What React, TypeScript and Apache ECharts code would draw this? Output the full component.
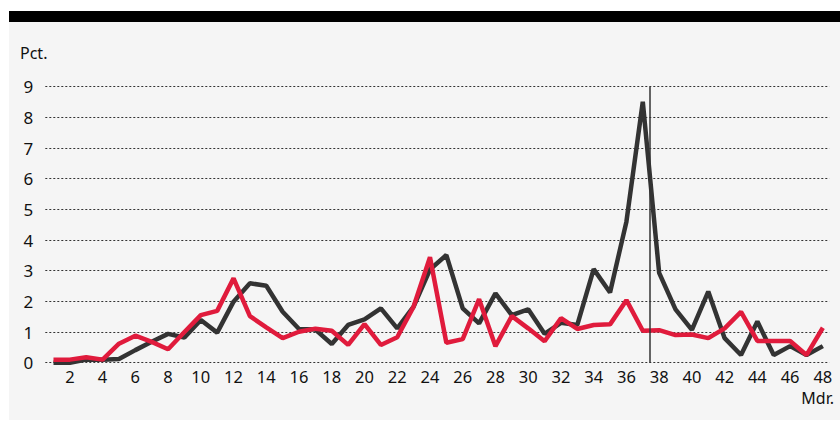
import React, { useEffect, useRef } from "react";
import * as echarts from "echarts";

const months = [
  1, 2, 3, 4, 5, 6, 7, 8, 9, 10, 11, 12, 13, 14, 15, 16, 17, 18, 19, 20, 21, 22, 23, 24,
  25, 26, 27, 28, 29, 30, 31, 32, 33, 34, 35, 36, 37, 38, 39, 40, 41, 42, 43, 44, 45, 46, 47, 48,
];
const blackSeries = [
  0.0, 0.0, 0.1, 0.1, 0.12, 0.41, 0.68, 0.94, 0.82, 1.39, 0.98, 1.99, 2.59, 2.51, 1.66, 1.1,
  1.08, 0.61, 1.23, 1.41, 1.77, 1.12, 1.83, 3.04, 3.51, 1.77, 1.28, 2.26, 1.55, 1.74, 0.94, 1.3,
  1.23, 3.05, 2.29, 4.6, 8.51, 2.93, 1.74, 1.07, 2.32, 0.8, 0.25, 1.34, 0.25, 0.54, 0.25, 0.54,
];
const redSeries = [
  0.1, 0.1, 0.18, 0.1, 0.62, 0.88, 0.68, 0.44, 1.0, 1.55, 1.69, 2.75, 1.52, 1.15, 0.8, 1.01,
  1.11, 1.04, 0.58, 1.26, 0.58, 0.83, 1.83, 3.44, 0.65, 0.77, 2.07, 0.54, 1.52, 1.12, 0.7, 1.45,
  1.1, 1.23, 1.25, 2.04, 1.04, 1.06, 0.9, 0.92, 0.8, 1.12, 1.66, 0.71, 0.71, 0.71, 0.25, 1.14,
];
const xTickLabels = [2, 4, 6, 8, 10, 12, 14, 16, 18, 20, 22, 24, 26, 28, 30, 32, 34, 36, 38, 40, 42, 44, 46, 48];
const markerMonth = 37.4;

const FONT = "'Noto Sans', sans-serif";
const TEXT = "#111111";

export default function App() {
  const ref = useRef<HTMLDivElement>(null);
  useEffect(() => {
    if (!ref.current) return;
    const chart = echarts.init(ref.current, null, { renderer: "svg" });
    chart.setOption({
      animation: false,
      backgroundColor: "#ffffff",
      textStyle: { fontFamily: FONT },
      graphic: [
        { type: "rect", z: -10, shape: { x: 9, y: 22, width: 831, height: 398 }, style: { fill: "#f5f5f5" } },
        { type: "rect", z: -10, shape: { x: 9, y: 11, width: 831, height: 11 }, style: { fill: "#000000" } },
        {
          type: "text",
          left: 20,
          top: 45,
          style: { text: "Pct.", fontSize: 16, fontFamily: FONT, fill: TEXT },
        },
        {
          type: "text",
          right: 6,
          top: 390,
          style: { text: "Mdr.", fontSize: 16, fontFamily: FONT, fill: TEXT },
        },
      ],
      grid: { left: 45.3, right: 10.6, top: 86.7, bottom: 58.3, containLabel: false },
      xAxis: {
        type: "value",
        min: 0.5,
        max: 48.4,
        axisLine: { show: false },
        axisTick: { show: false },
        splitLine: { show: false },
        axisLabel: {
          customValues: xTickLabels,
          fontSize: 16.5,
          color: TEXT,
          fontFamily: FONT,
          margin: 5,
        },
      },
      yAxis: {
        type: "value",
        min: 0,
        max: 9,
        interval: 1,
        axisLine: { show: false },
        axisTick: { show: false },
        axisLabel: { fontSize: 17, color: TEXT, fontFamily: FONT, margin: 12 },
        splitLine: { lineStyle: { color: "#333333", width: 1, type: [2, 2] } },
      },
      series: [
        {
          type: "line",
          data: months.map((m, i) => [m, blackSeries[i]]),
          showSymbol: false,
          lineStyle: { color: "#333333", width: 4.5 },
          itemStyle: { color: "#333333" },
          markLine: {
            silent: true,
            symbol: "none",
            label: { show: false },
            lineStyle: { color: "#333333", width: 1.5, type: "solid" },
            data: [{ xAxis: markerMonth }],
          },
        },
        {
          type: "line",
          data: months.map((m, i) => [m, redSeries[i]]),
          showSymbol: false,
          lineStyle: { color: "#e01b3c", width: 4.5 },
          itemStyle: { color: "#e01b3c" },
        },
      ],
    });
    return () => chart.dispose();
  }, []);
  return <div ref={ref} style={{ position: "fixed", left: 0, top: 0, width: 840, height: 421 }} />;
}
